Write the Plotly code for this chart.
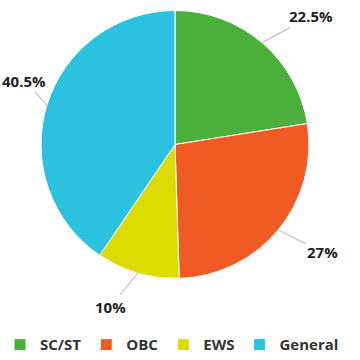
import math
import plotly.graph_objects as go

categories = ["SC/ST", "OBC", "EWS", "General"]
values = [22.5, 27, 10, 40.5]
label_texts = ["22.5%", "27%", "10%", "40.5%"]
colors = ["#4CAF3C", "#F05A23", "#DCDC00", "#2BC2E0"]

W = H = 360
cx, cy, R = 175, 144.5, 134  # pixel center/radius (from top-left)

fig = go.Figure(go.Pie(
    labels=categories, values=values, sort=False, direction="clockwise",
    rotation=0, textinfo="none", hoverinfo="label+percent",
    marker=dict(colors=colors, line=dict(color="white", width=1)),
    domain=dict(x=[(cx - R) / W, (cx + R) / W], y=[(H - cy - R) / H, (H - cy + R) / H]),
))

total = sum(values)
cum = 0
annotations = []
for v, t in zip(values, label_texts):
    mid = (cum + v / 2) / total * 2 * math.pi
    cum += v
    s, c = math.sin(mid), math.cos(mid)
    ex, ey = cx + R * s, cy - R * c
    lx, ly = cx + 1.26 * R * s, cy - 1.26 * R * c
    w = 9 * len(t)
    tx = lx + (w / 2 + 4) * (1 if s >= 0 else -1)
    ty = ly
    if tx - w / 2 < 2:  # keep inside the picture: put above the line end
        tx = w / 2 + 2
        ty = ly - 14
    tx = min(tx, W - w / 2)
    annotations.append(dict(
        x=ex / W, y=1 - ey / H, xref="paper", yref="paper",
        ax=tx - ex, ay=ty - ey, showarrow=True, arrowhead=0, arrowwidth=1.2,
        arrowcolor="#c4c4c4", standoff=0, startstandoff=0,
        text=f"<b>{t}</b>", font=dict(family="Open Sans", size=15, color="#222"),
    ))

fig.update_layout(
    width=W, height=H, margin=dict(l=0, r=0, t=0, b=0, autoexpand=False),
    paper_bgcolor="white", plot_bgcolor="white",
    annotations=annotations,
    showlegend=True,
    legend=dict(orientation="h", x=0, xanchor="left", y=0.042, yanchor="middle",
                font=dict(family="Open Sans", size=15, color="#333", weight="bold"),
                itemwidth=30, traceorder="normal"),
)
fig.write_html("out.html")
